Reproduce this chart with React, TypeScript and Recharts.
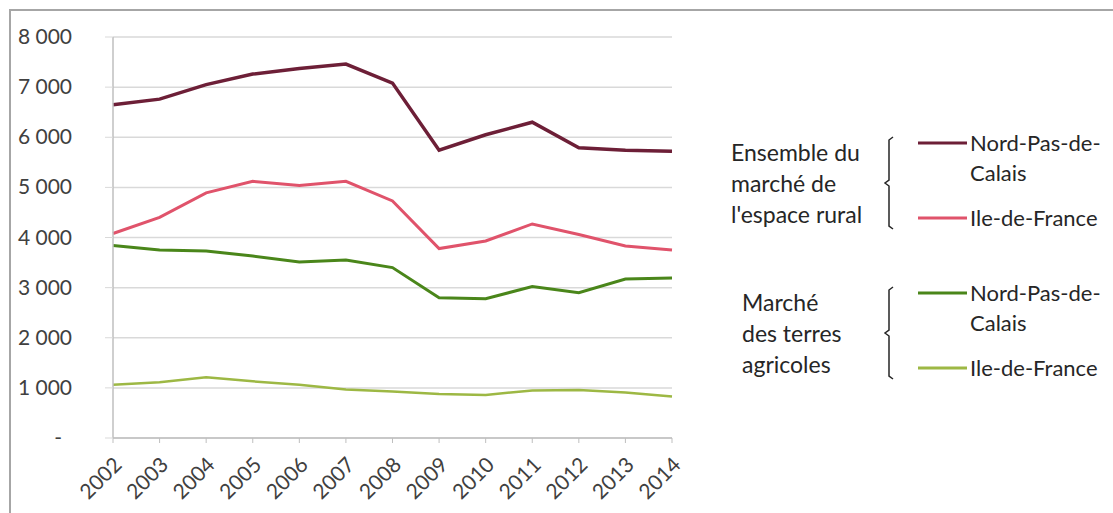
import React from 'react'
import { LineChart, Line, XAxis, YAxis, CartesianGrid } from 'recharts'

const years = ['2002', '2003', '2004', '2005', '2006', '2007', '2008', '2009', '2010', '2011', '2012', '2013', '2014']

// Ensemble du marché de l'espace rural
const nordEnsemble = [6650, 6760, 7050, 7260, 7370, 7460, 7080, 5740, 6050, 6300, 5790, 5740, 5720]
const idfEnsemble = [4080, 4400, 4890, 5120, 5040, 5120, 4730, 3780, 3930, 4270, 4060, 3830, 3750]

// Marché des terres agricoles
const nordTerres = [3840, 3750, 3730, 3630, 3510, 3550, 3400, 2800, 2780, 3020, 2900, 3170, 3190]
const idfTerres = [1060, 1110, 1210, 1130, 1060, 970, 930, 880, 860, 950, 960, 910, 830]

const yTicks = [0, 1000, 2000, 3000, 4000, 5000, 6000, 7000, 8000]

const groupLabels = [
  ['Ensemble du', 'marché de', "l'espace rural"],
  ['Marché', 'des terres', 'agricoles'],
]
const regionLabels = [['Nord-Pas-de-', 'Calais'], ['Ile-de-France']]

const colors = {
  nordEnsemble: '#6d1f37',
  idfEnsemble: '#e0536b',
  nordTerres: '#4a861a',
  idfTerres: '#9db844',
}

const FONT = 'Lato, "Open Sans", sans-serif'
const TEXT = '#404040'

const data = years.map((year, i) => ({
  year,
  nordEnsemble: nordEnsemble[i],
  idfEnsemble: idfEnsemble[i],
  nordTerres: nordTerres[i],
  idfTerres: idfTerres[i],
}))

const formatThousands = (v: number) =>
  v === 0 ? '-' : String(v).replace(/\B(?=(\d{3})+(?!\d))/g, ' ')

function YTick({ x, y, payload }: any) {
  const isZero = payload.value === 0
  return (
    <text
      x={isZero ? x - 10 : x}
      y={y}
      dy={7}
      textAnchor="end"
      fill={TEXT}
      fontSize={21}
      fontFamily={FONT}
    >
      {formatThousands(payload.value)}
    </text>
  )
}

function XTick({ x, y, payload }: any) {
  return (
    <text
      transform={`translate(${x + 3}, ${y + 14}) rotate(-45)`}
      textAnchor="end"
      dy={10}
      fill={TEXT}
      fontSize={21}
      fontFamily={FONT}
    >
      {payload.value}
    </text>
  )
}

function Bracket({ x, top, bottom }: { x: number; top: number; bottom: number }) {
  const mid = (top + bottom) / 2
  return (
    <path
      d={`M${x + 4},${top} L${x},${top + 3} L${x},${mid - 3} L${x - 4},${mid} L${x},${mid + 3} L${x},${bottom - 3} L${x + 4},${bottom}`}
      fill="none"
      stroke="#262626"
      strokeWidth={1.5}
    />
  )
}

function LegendGroup({
  top,
  labels,
  lineColors,
  labelX,
}: {
  top: number
  labels: string[]
  lineColors: string[]
  labelX: number
}) {
  // top = y of the first series line
  const lowerLine = top + 75
  return (
    <g fontFamily={FONT} fill="#262626">
      {labels.map((t, i) => (
        <text key={t} x={labelX} y={top + 18 + i * 31} fontSize={23}>
          {t}
        </text>
      ))}
      <Bracket x={889} top={top - 6} bottom={lowerLine + 11} />
      <line x1={918} x2={967} y1={top} y2={top} stroke={lineColors[0]} strokeWidth={3} />
      <line x1={918} x2={967} y1={lowerLine} y2={lowerLine} stroke={lineColors[1]} strokeWidth={3} />
      <g fontSize={22}>
        <text x={970} y={top + 8}>{regionLabels[0][0]}</text>
        <text x={970} y={top + 38}>{regionLabels[0][1]}</text>
        <text x={970} y={lowerLine + 8}>{regionLabels[1][0]}</text>
      </g>
    </g>
  )
}

export default function App() {
  return (
    <div style={{ position: 'fixed', left: 0, top: 0, width: 1113, height: 513, background: '#fff' }}>
      <div
        style={{
          position: 'absolute',
          left: 9,
          top: 9,
          right: 0,
          bottom: 0,
          borderLeft: '2px solid #a6a6a6',
          borderTop: '2px solid #a6a6a6',
        }}
      />
      <div style={{ position: 'absolute', left: 0, top: 0 }}>
        <LineChart
          width={1113}
          height={513}
          data={data}
          margin={{ top: 37, right: 441, left: 13, bottom: 5 }}
        >
          <CartesianGrid vertical={false} stroke="#d9d9d9" strokeWidth={1.5} />
          <XAxis
            dataKey="year"
            interval={0}
            padding={{ left: 0, right: 0 }}
            height={70}
            tickSize={5}
            axisLine={{ stroke: '#bfbfbf', strokeWidth: 1.5 }}
            tickLine={{ stroke: '#bfbfbf' }}
            tick={<XTick />}
          />
          <YAxis
            domain={[0, 8000]}
            ticks={yTicks}
            width={100}
            tickSize={8}
            tickMargin={33}
            axisLine={{ stroke: '#bfbfbf', strokeWidth: 1.5 }}
            tickLine={{ stroke: '#d9d9d9' }}
            tick={<YTick />}
          />
          <Line dataKey="idfTerres" stroke={colors.idfTerres} strokeWidth={2.5} dot={false} isAnimationActive={false} />
          <Line dataKey="nordTerres" stroke={colors.nordTerres} strokeWidth={3} dot={false} isAnimationActive={false} />
          <Line dataKey="idfEnsemble" stroke={colors.idfEnsemble} strokeWidth={3} dot={false} isAnimationActive={false} />
          <Line dataKey="nordEnsemble" stroke={colors.nordEnsemble} strokeWidth={3.5} dot={false} isAnimationActive={false} />
        </LineChart>
      </div>
      <svg width={1113} height={513} style={{ position: 'absolute', left: 0, top: 0, pointerEvents: 'none' }}>
        <LegendGroup
          top={143}
          labels={groupLabels[0]}
          lineColors={[colors.nordEnsemble, colors.idfEnsemble]}
          labelX={731}
        />
        <LegendGroup
          top={293}
          labels={groupLabels[1]}
          lineColors={[colors.nordTerres, colors.idfTerres]}
          labelX={742}
        />
      </svg>
    </div>
  )
}
